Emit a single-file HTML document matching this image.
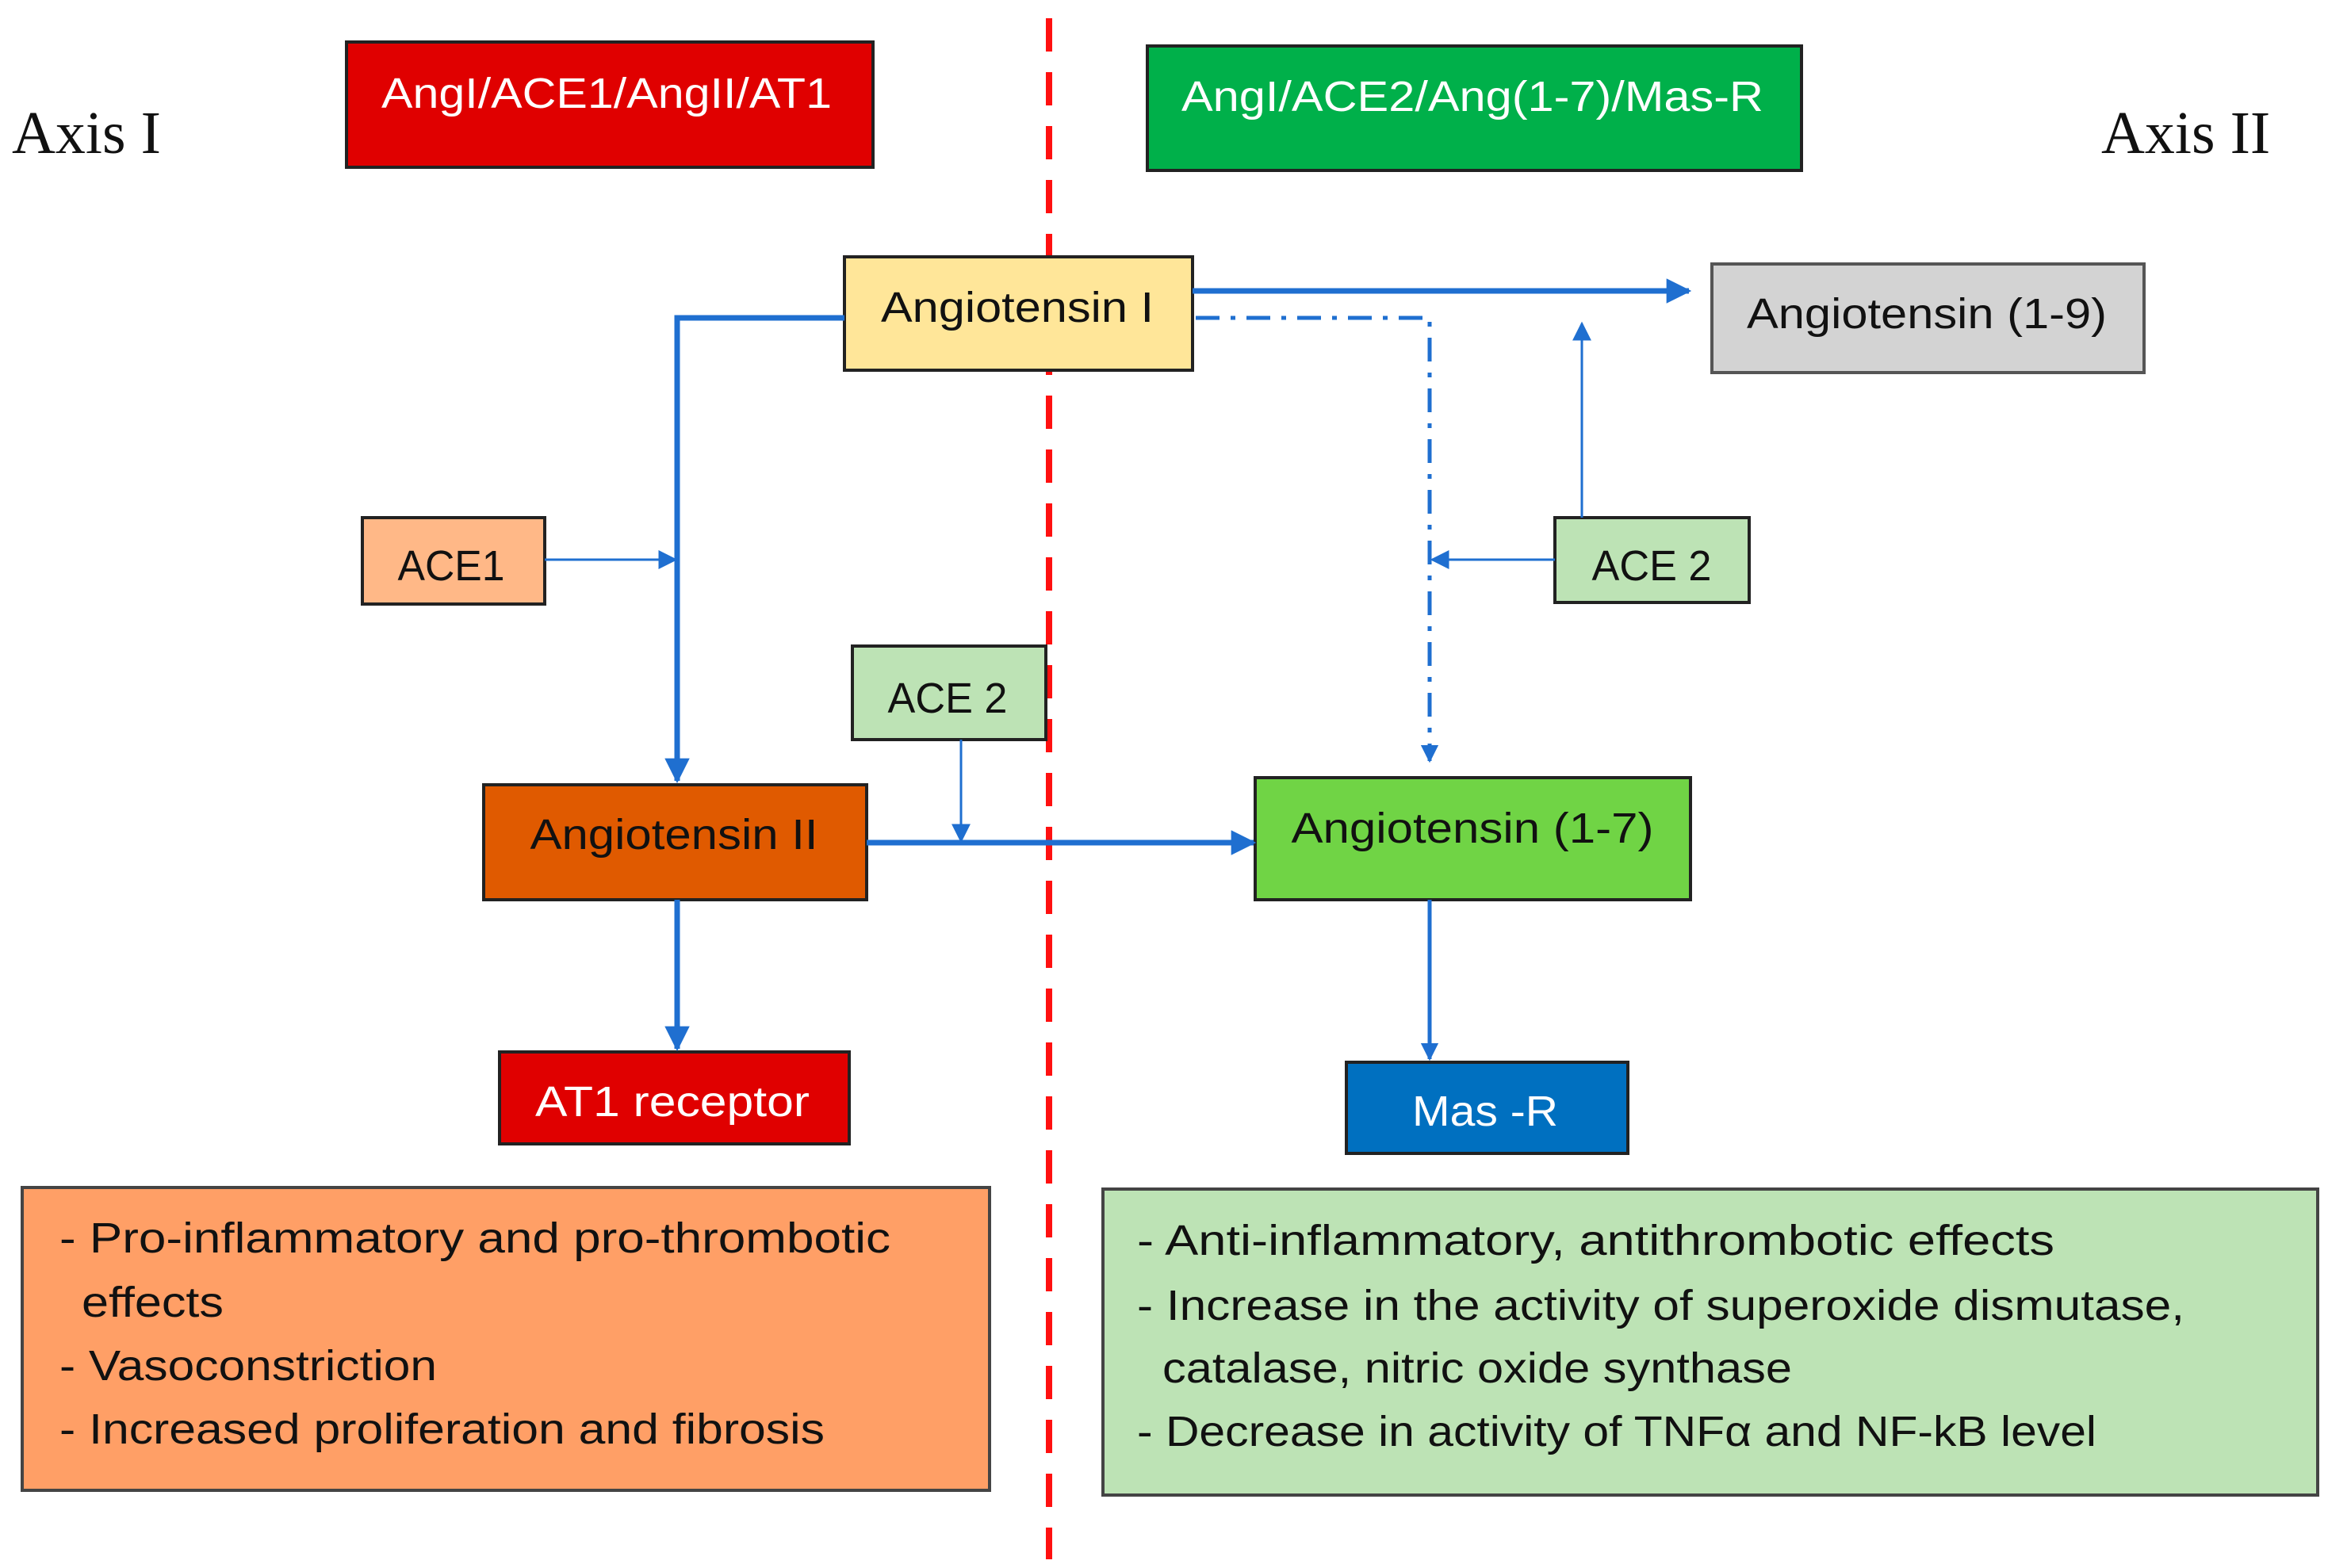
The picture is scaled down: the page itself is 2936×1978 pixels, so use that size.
<!DOCTYPE html>
<html><head><meta charset="utf-8"><style>
html,body{margin:0;padding:0;background:#fff;}
svg{display:block;}
text{font-family:"Liberation Sans",sans-serif;}
</style></head><body>
<svg width="2936" height="1978" viewBox="0 0 2936 1978" xmlns="http://www.w3.org/2000/svg">
<defs>
<marker id="a" viewBox="0 0 10 10" refX="9" refY="5" markerWidth="8" markerHeight="8" orient="auto" markerUnits="strokeWidth"><path d="M0,0L10,5L0,10z" fill="#1F6FD0"/></marker>
<marker id="b" viewBox="0 0 10 10" refX="9" refY="5" markerWidth="4.5" markerHeight="4.5" orient="auto" markerUnits="strokeWidth"><path d="M0,0L10,5L0,10z" fill="#1F6FD0"/></marker>
</defs>
<line x1="1323" y1="23" x2="1323" y2="1967" stroke="#FF1010" stroke-width="8" stroke-dasharray="42,26"/>
<text x="15" y="193" style="font-family:'Liberation Serif',serif" font-size="76" fill="#111">Axis I</text>
<text x="2650" y="193" style="font-family:'Liberation Serif',serif" font-size="76" fill="#111">Axis II</text>
<g stroke="#222" stroke-width="4">
<rect x="437" y="53" width="664" height="158" fill="#E00000"/>
<rect x="1447" y="58" width="825" height="157" fill="#00B04A"/>
<rect x="1065" y="324" width="439" height="143" fill="#FFE699"/>
<rect x="2159" y="333" width="545" height="137" fill="#D3D3D3" stroke="#555"/>
<rect x="457" y="653" width="230" height="109" fill="#FFB887"/>
<rect x="1075" y="815" width="244" height="118" fill="#BDE3B5"/>
<rect x="1961" y="653" width="245" height="107" fill="#BDE3B5"/>
<rect x="610" y="990" width="483" height="145" fill="#E05A00"/>
<rect x="1583" y="981" width="549" height="154" fill="#70D445"/>
<rect x="630" y="1327" width="441" height="116" fill="#E00000"/>
<rect x="1698" y="1340" width="355" height="115" fill="#0070C0"/>
<rect x="28" y="1498" width="1220" height="382" fill="#FF9F66" stroke="#444"/>
<rect x="1391" y="1500" width="1532" height="386" fill="#BDE3B5" stroke="#444"/>
</g>
<g font-size="54" text-anchor="middle" fill="#111" lengthAdjust="spacingAndGlyphs">
<text x="765" y="136" fill="#fff" textLength="568" lengthAdjust="spacingAndGlyphs">AngI/ACE1/AngII/AT1</text>
<text x="1857" y="140" fill="#fff" textLength="734" lengthAdjust="spacingAndGlyphs">AngI/ACE2/Ang(1-7)/Mas-R</text>
<text x="1283" y="406" textLength="344" lengthAdjust="spacingAndGlyphs">Angiotensin I</text>
<text x="2430" y="414" textLength="454" lengthAdjust="spacingAndGlyphs">Angiotensin (1-9)</text>
<text x="569" y="732" textLength="135" lengthAdjust="spacingAndGlyphs">ACE1</text>
<text x="1195" y="899" textLength="151" lengthAdjust="spacingAndGlyphs">ACE 2</text>
<text x="2083" y="732" textLength="151" lengthAdjust="spacingAndGlyphs">ACE 2</text>
<text x="850" y="1071" textLength="363" lengthAdjust="spacingAndGlyphs">Angiotensin II</text>
<text x="1857" y="1063" textLength="457" lengthAdjust="spacingAndGlyphs">Angiotensin (1-7)</text>
<text x="848" y="1408" fill="#fff" textLength="346" lengthAdjust="spacingAndGlyphs">AT1 receptor</text>
<text x="1873" y="1420" fill="#fff" textLength="184" lengthAdjust="spacingAndGlyphs">Mas -R</text>
</g>
<g font-size="54" fill="#111">
<text x="75" y="1580" textLength="1048" lengthAdjust="spacingAndGlyphs">- Pro-inflammatory and pro-thrombotic</text>
<text x="103" y="1661" textLength="179" lengthAdjust="spacingAndGlyphs">effects</text>
<text x="75" y="1741" textLength="476" lengthAdjust="spacingAndGlyphs">- Vasoconstriction</text>
<text x="75" y="1821" textLength="965" lengthAdjust="spacingAndGlyphs">- Increased proliferation and fibrosis</text>
<text x="1434" y="1583" textLength="1157" lengthAdjust="spacingAndGlyphs">- Anti-inflammatory, antithrombotic effects</text>
<text x="1434" y="1665" textLength="1321" lengthAdjust="spacingAndGlyphs">- Increase in the activity of superoxide dismutase,</text>
<text x="1466" y="1744" textLength="794" lengthAdjust="spacingAndGlyphs">catalase, nitric oxide synthase</text>
<text x="1434" y="1824" textLength="1210" lengthAdjust="spacingAndGlyphs">- Decrease in activity of TNFα and NF-kB level</text>
</g>
<g fill="none" stroke="#1F6FD0">
<polyline points="1065,401 854,401 854,985" stroke-width="7" marker-end="url(#b)"/>
<line x1="687" y1="706" x2="852" y2="706" stroke-width="3" marker-end="url(#a)"/>
<line x1="1504" y1="367" x2="2130" y2="367" stroke-width="7" marker-end="url(#b)"/>
<polyline points="1508,401 1803,401 1803,960" stroke-width="5" stroke-dasharray="30,14,6,14" marker-end="url(#b)"/>
<line x1="1961" y1="706" x2="1806" y2="706" stroke-width="3" marker-end="url(#a)"/>
<line x1="1995" y1="653" x2="1995" y2="408" stroke-width="3" marker-end="url(#a)"/>
<line x1="1093" y1="1063" x2="1581" y2="1063" stroke-width="7" marker-end="url(#b)"/>
<line x1="1212" y1="933" x2="1212" y2="1061" stroke-width="3" marker-end="url(#a)"/>
<line x1="854" y1="1135" x2="854" y2="1323" stroke-width="7" marker-end="url(#b)"/>
<line x1="1803" y1="1135" x2="1803" y2="1336" stroke-width="5" marker-end="url(#b)"/>
</g>
</svg>
</body></html>
